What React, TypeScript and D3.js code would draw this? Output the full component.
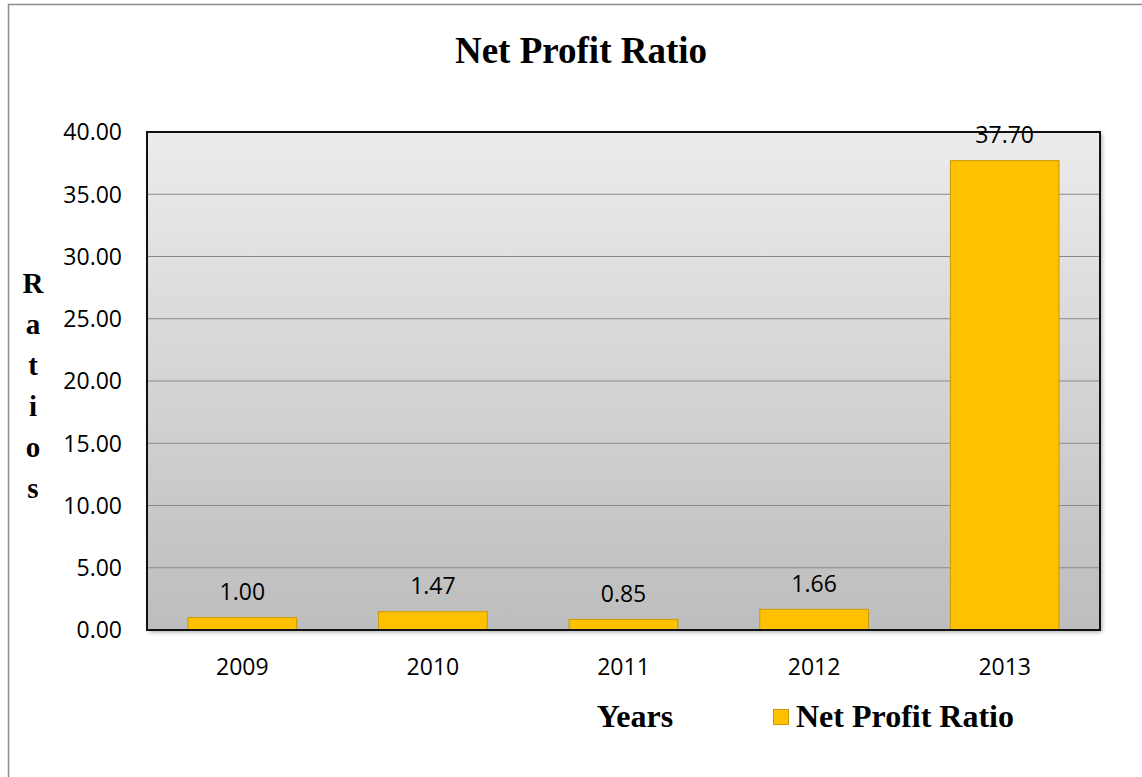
import React from "react";
import * as d3 from "d3";

const years = ["2009", "2010", "2011", "2012", "2013"];
const netProfitRatio = [1.0, 1.47, 0.85, 1.66, 37.7];
const yTicks = [0, 5, 10, 15, 20, 25, 30, 35, 40];
const yTitleLetters = ["R", "a", "t", "i", "o", "s"];

export default function App() {
  const W = 1142, H = 777;
  const left = 147, right = 1100, top = 132, bottom = 630;
  const x = d3.scaleBand<string>().domain(years).range([left, right]).paddingInner(0.43).paddingOuter(0.215);
  const y = d3.scaleLinear().domain([0, 40]).range([bottom, top]);
  const sans = "'Open Sans', Lato, sans-serif";
  const serif = "'Liberation Serif', 'Times New Roman', serif";
  return (
    <svg width={W} height={H} style={{ position: "absolute", left: 0, top: 0 }}>
      <defs>
        <linearGradient id="bg" x1="0" y1="0" x2="0" y2="1">
          <stop offset="0" stopColor="#ececec" />
          <stop offset="1" stopColor="#bdbdbd" />
        </linearGradient>
        <filter id="sh" x="-5%" y="-5%" width="110%" height="110%">
          <feDropShadow dx="2" dy="2" stdDeviation="2" floodColor="#000" floodOpacity="0.35" />
        </filter>
      </defs>
      <rect x={0} y={0} width={W} height={H} fill="#fff" />
      <rect x={8.5} y={4.5} width={W + 10} height={H + 10} fill="none" stroke="#8c8c8c" strokeWidth={1.5} />
      <text x={581} y={63} textAnchor="middle" fontFamily={serif} fontWeight="bold" fontSize={37}>Net Profit Ratio</text>
      <rect x={left} y={top} width={right - left} height={bottom - top} fill="url(#bg)" filter="url(#sh)" />
      {yTicks.filter(t => t > 0 && t < 40).map(t => (
        <line key={t} x1={left} x2={right} y1={y(t)} y2={y(t)} stroke="#8a8a8a" strokeWidth={1} />
      ))}
      {years.map((yr, i) => (
        <rect key={yr} x={x(yr)!} y={y(netProfitRatio[i])} width={x.bandwidth()} height={bottom - y(netProfitRatio[i])}
          fill="#FFC000" stroke="#C99A06" strokeWidth={1} />
      ))}
      <rect x={left} y={top} width={right - left} height={bottom - top} fill="none" stroke="#111" strokeWidth={2} />
      {yTicks.map(t => (
        <text key={t} x={122} y={y(t)} dy="0.36em" textAnchor="end" fontFamily={sans} fontSize={23} fill="#000">{t.toFixed(2)}</text>
      ))}
      {years.map((yr, i) => (
        <text key={yr} x={x(yr)! + x.bandwidth() / 2} y={y(netProfitRatio[i]) - 26} dy="0.36em" textAnchor="middle" fontFamily={sans} fontSize={23} fill="#000">{netProfitRatio[i].toFixed(2)}</text>
      ))}
      {years.map(yr => (
        <text key={yr} x={x(yr)! + x.bandwidth() / 2} y={667} dy="0.36em" textAnchor="middle" fontFamily={sans} fontSize={23} fill="#000">{yr}</text>
      ))}
      {yTitleLetters.map((c, i) => (
        <text key={i} x={33} y={283 + i * 41} dy="0.35em" textAnchor="middle" fontFamily={serif} fontWeight="bold" fontSize={29}>{c}</text>
      ))}
      <text x={635} y={727} textAnchor="middle" fontFamily={serif} fontWeight="bold" fontSize={32}>Years</text>
      <rect x={773.5} y={709.5} width={15} height={15} fill="#FFC000" stroke="#C99A06" strokeWidth={1} />
      <text x={796} y={727} fontFamily={serif} fontWeight="bold" fontSize={32}>Net Profit Ratio</text>
    </svg>
  );
}
